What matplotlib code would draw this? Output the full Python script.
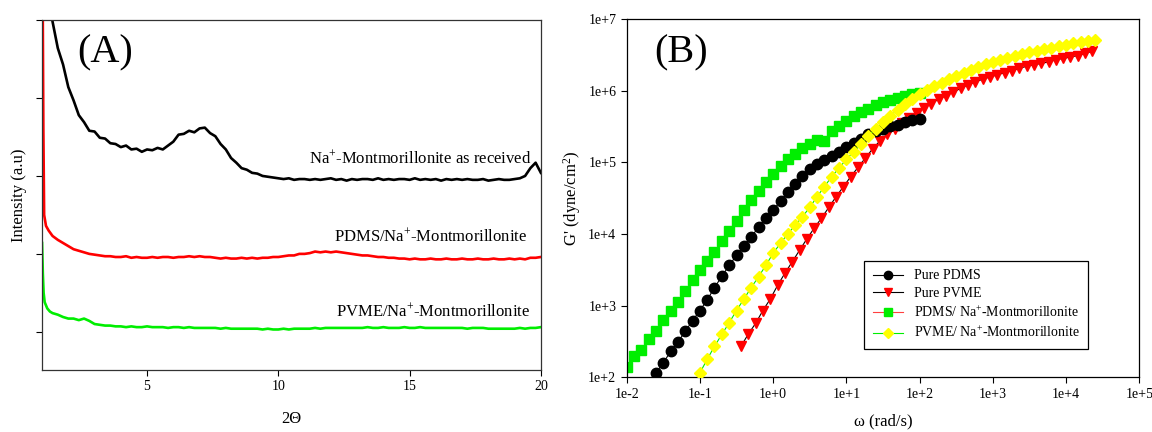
import numpy as np
import matplotlib
matplotlib.use("Agg")
import matplotlib.pyplot as plt
from matplotlib.ticker import FixedLocator, FuncFormatter, NullLocator

plt.rcParams["font.family"] = "Liberation Serif"
plt.rcParams["mathtext.fontset"] = "custom"
plt.rcParams["mathtext.rm"] = "Liberation Serif"
plt.rcParams["mathtext.it"] = "Liberation Serif:italic"

# ---------------- (A) XRD patterns ----------------
two_theta = [1.4, 1.6, 1.8, 2.0, 2.2, 2.4, 2.6, 2.8, 3.0, 3.2, 3.4, 3.6, 3.8, 4.0, 4.2, 4.4,
             4.6, 4.8, 5.0, 5.2, 5.4, 5.6, 5.8, 6.0, 6.2, 6.4, 6.6, 6.8, 7.0, 7.2, 7.4, 7.6,
             7.8, 8.0, 8.2, 8.4, 8.6, 8.8, 9.0, 9.2, 9.4, 9.6, 9.8, 10.0, 10.2, 10.4, 10.6,
             10.8, 11.0, 11.2, 11.4, 11.6, 11.8, 12.0, 12.2, 12.4, 12.6, 12.8, 13.0, 13.2,
             13.4, 13.6, 13.8, 14.0, 14.2, 14.4, 14.6, 14.8, 15.0, 15.2, 15.4, 15.6, 15.8,
             16.0, 16.2, 16.4, 16.6, 16.8, 17.0, 17.2, 17.4, 17.6, 17.8, 18.0, 18.2, 18.4,
             18.6, 18.8, 19.0, 19.2, 19.4, 19.6, 19.8, 20.0]

mmt_start_x = [1.3]
mmt_start_y = [4.3]
mmt_y = [3.98, 3.64, 3.43, 3.14, 2.97, 2.78, 2.69, 2.58, 2.57, 2.49, 2.48, 2.42, 2.41, 2.37,
         2.39, 2.34, 2.35, 2.31, 2.34, 2.33, 2.36, 2.34, 2.39, 2.44, 2.53, 2.54, 2.58, 2.56,
         2.61, 2.62, 2.55, 2.51, 2.41, 2.34, 2.23, 2.17, 2.10, 2.08, 2.04, 2.03, 2.00, 1.99,
         1.98, 1.97, 1.96, 1.97, 1.95, 1.96, 1.96, 1.95, 1.96, 1.95, 1.96, 1.97, 1.95, 1.96,
         1.94, 1.96, 1.95, 1.96, 1.96, 1.95, 1.97, 1.95, 1.96, 1.95, 1.96, 1.96, 1.95, 1.97,
         1.95, 1.96, 1.95, 1.96, 1.94, 1.96, 1.95, 1.96, 1.95, 1.96, 1.95, 1.95, 1.96, 1.94,
         1.95, 1.96, 1.95, 1.95, 1.96, 1.97, 2.00, 2.10, 2.17, 2.04]

pdms_mmt_start_x = [1.02, 1.05, 1.08, 1.15, 1.25]
pdms_mmt_start_y = [4.6, 2.6, 1.5, 1.36, 1.30]
pdms_mmt_y = [1.23, 1.18, 1.14, 1.10, 1.06, 1.04, 1.02, 1.00, 0.99, 0.98, 0.97, 0.97, 0.96,
              0.96, 0.97, 0.95, 0.96, 0.95, 0.95, 0.96, 0.95, 0.96, 0.96, 0.95, 0.96, 0.96,
              0.97, 0.96, 0.97, 0.96, 0.96, 0.95, 0.94, 0.95, 0.94, 0.94, 0.95, 0.94, 0.95,
              0.94, 0.95, 0.95, 0.96, 0.96, 0.97, 0.98, 0.98, 1.00, 1.00, 1.01, 1.03, 1.02,
              1.03, 1.02, 1.03, 1.02, 1.01, 1.00, 0.99, 0.98, 0.98, 0.97, 0.96, 0.96, 0.95,
              0.95, 0.94, 0.94, 0.93, 0.94, 0.93, 0.93, 0.94, 0.93, 0.93, 0.94, 0.93, 0.93,
              0.94, 0.93, 0.93, 0.94, 0.93, 0.93, 0.94, 0.93, 0.93, 0.94, 0.93, 0.94, 0.93,
              0.95, 0.95, 0.96]

pvme_mmt_start_x = [1.0, 1.03, 1.06, 1.1, 1.2, 1.3]
pvme_mmt_start_y = [1.14, 0.75, 0.50, 0.38, 0.30, 0.26]
pvme_mmt_y = [0.24, 0.22, 0.19, 0.17, 0.17, 0.15, 0.17, 0.14, 0.10, 0.09, 0.08, 0.08, 0.07,
              0.07, 0.06, 0.07, 0.06, 0.06, 0.07, 0.06, 0.06, 0.06, 0.05, 0.06, 0.06, 0.05,
              0.06, 0.05, 0.05, 0.05, 0.05, 0.05, 0.04, 0.05, 0.04, 0.04, 0.04, 0.04, 0.04,
              0.04, 0.03, 0.04, 0.03, 0.03, 0.04, 0.03, 0.04, 0.04, 0.04, 0.04, 0.05, 0.04,
              0.05, 0.05, 0.05, 0.05, 0.05, 0.05, 0.05, 0.05, 0.06, 0.05, 0.05, 0.06, 0.05,
              0.05, 0.05, 0.06, 0.05, 0.05, 0.06, 0.05, 0.05, 0.05, 0.05, 0.05, 0.05, 0.05,
              0.05, 0.04, 0.05, 0.05, 0.05, 0.04, 0.04, 0.04, 0.04, 0.04, 0.04, 0.05, 0.04,
              0.05, 0.05, 0.06]

# ---------------- (B) storage modulus ----------------
w_pdms = [0.0251, 0.0316, 0.0398, 0.0501, 0.0631, 0.0794, 0.1, 0.126, 0.158, 0.2, 0.251,
          0.316, 0.398, 0.501, 0.631, 0.794, 1.0, 1.26, 1.58, 2.0, 2.51, 3.16, 3.98, 5.01,
          6.31, 7.94, 10.0, 12.6, 15.8, 20.0, 25.1, 31.6, 39.8, 50.1, 63.1, 79.4, 100.0]
g_pdms = [115, 158, 229, 309, 437, 617, 851, 1202, 1778, 2570, 3631, 5012, 6761, 9120, 12300,
          16600, 21380, 28840, 38020, 50120, 64570, 79430, 93330, 107200, 123000, 141300,
          162200, 186200, 213800, 245500, 269200, 295100, 316200, 331100, 363100, 389000,
          407400]

w_pvme = [0.363, 0.457, 0.575, 0.724, 0.912, 1.148, 1.445, 1.82, 2.291, 2.884, 3.631, 4.571,
          5.754, 7.244, 9.12, 11.48, 14.45, 18.2, 22.91, 28.84, 36.31, 45.71, 57.54, 72.44,
          91.2, 114.8, 144.5, 182, 229.1, 288.4, 363.1, 457.1, 575.4, 724.4, 912, 1148, 1445,
          1820, 2291, 2884, 3631, 4571, 5754, 7244, 9120, 11480, 14450, 18200, 22910]
g_pvme = [269, 398, 562, 851, 1230, 1905, 2818, 4074, 5888, 8511, 12020, 16600, 23440, 33110,
          45710, 63100, 85110, 114800, 154900, 199500, 245500, 295100, 354800, 416900, 489800,
          575400, 660700, 758600, 851100, 955000, 1072000, 1202000, 1318000, 1445000, 1549000,
          1660000, 1778000, 1905000, 2042000, 2188000, 2291000, 2399000, 2512000, 2692000,
          2818000, 2951000, 3090000, 3311000, 3548000]

w_pdms_mmt = [0.01, 0.0126, 0.0158, 0.02, 0.0251, 0.0316, 0.0398, 0.0501, 0.0631, 0.0794, 0.1,
              0.126, 0.158, 0.2, 0.251, 0.316, 0.398, 0.501, 0.631, 0.794, 1.0, 1.26, 1.58,
              2.0, 2.51, 3.16, 3.98, 5.01, 6.31, 7.94, 10.0, 12.6, 15.8, 20.0, 25.1, 31.6,
              39.8, 50.1, 63.1, 79.4, 100.0]
g_pdms_mmt = [138, 200, 240, 339, 437, 631, 851, 1122, 1585, 2239, 3090, 4169, 5623, 7943,
              10960, 15140, 21380, 29510, 39810, 52480, 69180, 89130, 109600, 131800, 158500,
              182000, 204200, 195000, 269200, 323600, 380200, 446700, 501200, 562300, 631000,
              691800, 741300, 794300, 851100, 891300, 933300]

w_pvme_mmt = [0.1, 0.126, 0.158, 0.2, 0.251, 0.316, 0.398, 0.501, 0.631, 0.794, 1.0, 1.26,
              1.58, 2.0, 2.51, 3.16, 3.98, 5.01, 6.31, 7.94, 10.0, 12.6, 15.8, 20.0, 25.1,
              31.6, 39.8, 50.1, 63.1, 79.4, 100, 126, 158, 200, 251, 316, 398, 501, 631, 794,
              1000, 1260, 1580, 2000, 2510, 3160, 3980, 5010, 6310, 7940, 10000, 12600, 15800,
              20000, 25100]
g_pvme_mmt = [115, 178, 269, 398, 575, 851, 1230, 1778, 2512, 3631, 5370, 7413, 10000, 13180,
              17380, 23440, 33110, 45710, 63100, 83180, 109600, 141300, 182000, 234400, 295100,
              363100, 446700, 537000, 645700, 758600, 891300, 1023000, 1148000, 1288000,
              1445000, 1622000, 1778000, 1950000, 2138000, 2344000, 2512000, 2692000, 2884000,
              3090000, 3236000, 3467000, 3631000, 3802000, 3981000, 4169000, 4365000, 4571000,
              4786000, 4898000, 5129000]

fig = plt.figure(figsize=(11.52, 4.32), dpi=100)
ax1 = fig.add_axes([0.0365, 0.1435, 0.433, 0.81])
ax2 = fig.add_axes([0.544, 0.127, 0.445, 0.829])

# ---- panel A
ax1.plot(mmt_start_x + two_theta, mmt_start_y + mmt_y, color="black", lw=1.9)
ax1.plot(pdms_mmt_start_x + two_theta, pdms_mmt_start_y + pdms_mmt_y, color="#ff0000", lw=1.9)
ax1.plot(pvme_mmt_start_x + two_theta, pvme_mmt_start_y + pvme_mmt_y, color="#00ee00", lw=1.9)
ax1.set_xlim(1, 20)
ax1.set_ylim(-0.49, 4.0)
ax1.set_xticks([5, 10, 15, 20])
ax1.yaxis.set_major_locator(FixedLocator([0, 1, 2, 3, 4]))
ax1.set_yticklabels([])
ax1.tick_params(direction="out", length=4, width=0.8, labelsize=10)
for s in ax1.spines.values():
    s.set_color("#333333")
    s.set_linewidth(0.9)
ax1.set_xlabel("2\u0398", fontsize=12, labelpad=13)
ax1.set_ylabel("Intensity (a.u)", fontsize=12, labelpad=3)
ax1.text(0.07, 0.905, "(A)", transform=ax1.transAxes, fontsize=29, va="center", ha="left")
ax1.text(19.65, 2.23, "Na$^{+}$-Montmorillonite as received", fontsize=12, ha="right", va="center")
ax1.text(19.5, 1.22, "PDMS/Na$^{+}$-Montmorillonite", fontsize=12, ha="right", va="center")
ax1.text(19.6, 0.26, "PVME/Na$^{+}$-Montmorillonite", fontsize=12, ha="right", va="center")

# ---- panel B
ax2.set_xscale("log")
ax2.set_yscale("log")
ax2.plot(w_pdms, g_pdms, "-o", color="black", mfc="black", mec="black", ms=7.5, lw=0.8,
         label="Pure PDMS", zorder=3)
ax2.plot(w_pvme, g_pvme, "-v", color="black", mfc="#ff0000", mec="#ff0000", ms=7.5, lw=0.8,
         label="Pure PVME", zorder=2)
ax2.plot(w_pdms_mmt, g_pdms_mmt, "-s", color="#ff4040", mfc="#00ee00", mec="#00ee00", ms=7,
         lw=0.8, label="PDMS/ Na$^{+}$-Montmorillonite", zorder=2.5)
ax2.plot(w_pvme_mmt, g_pvme_mmt, "-D", color="#00ee00", mfc="#ffff00", mec="#ffff00", ms=6.5,
         lw=0.8, label="PVME/ Na$^{+}$-Montmorillonite", zorder=4)
ax2.set_xlim(1e-2, 1e5)
ax2.set_ylim(1e2, 1e7)
ax2.xaxis.set_major_locator(FixedLocator([1e-2, 1e-1, 1e0, 1e1, 1e2, 1e3, 1e4, 1e5]))
ax2.yaxis.set_major_locator(FixedLocator([1e2, 1e3, 1e4, 1e5, 1e6, 1e7]))
ax2.xaxis.set_minor_locator(NullLocator())
ax2.yaxis.set_minor_locator(NullLocator())
fmt = FuncFormatter(lambda v, p: "1e%+d" % int(round(np.log10(v))))
ax2.xaxis.set_major_formatter(fmt)
ax2.yaxis.set_major_formatter(fmt)
ax2.tick_params(direction="out", length=4, width=0.8, labelsize=10)
for s in ax2.spines.values():
    s.set_color("black")
    s.set_linewidth(0.9)
ax2.set_xlabel("\u03c9 (rad/s)", fontsize=12, labelpad=9)
ax2.set_ylabel("G' (dyne/cm$^{2}$)", fontsize=12, labelpad=4)
ax2.text(0.053, 0.905, "(B)", transform=ax2.transAxes, fontsize=29, va="center", ha="left")
leg = ax2.legend(loc="lower left", bbox_to_anchor=(0.45, 0.06), fontsize=10, fancybox=False,
                 edgecolor="black", framealpha=1, handlelength=2.2, borderpad=0.6,
                 labelspacing=0.35, markerscale=0.8)
leg.get_frame().set_linewidth(0.9)

fig.savefig("out.png", dpi=100)
